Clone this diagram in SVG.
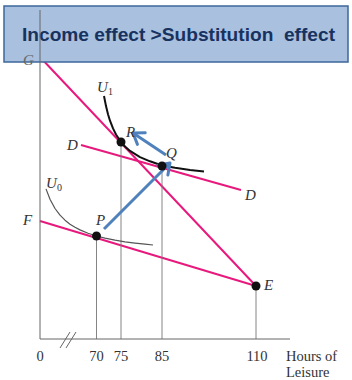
<svg xmlns="http://www.w3.org/2000/svg" width="352" height="380" viewBox="0 0 352 380">
<style>
.pink{stroke:#e8197d;stroke-width:2;fill:none}
.ax{stroke:#666;stroke-width:1;fill:none}
.drop{stroke:#777;stroke-width:0.9;fill:none}
.lbl{font-family:"Liberation Serif",serif;font-style:italic;font-size:15px;fill:#333}
.sub{font-family:"Liberation Serif",serif;font-size:10px;fill:#333}
.tick{font-family:"Liberation Serif",serif;font-size:14.5px;fill:#333}
.arr{stroke:#4f81bd;stroke-width:3;fill:none;marker-end:url(#ah)}
.pt{fill:#111}
</style>
<defs>
<marker id="ah" markerUnits="userSpaceOnUse" viewBox="-14 -9 16 18" refX="0" refY="0" markerWidth="16" markerHeight="18" orient="auto">
<path d="M-10,-7 L0,0 L-10,7" stroke="#4f81bd" stroke-width="3" fill="none" stroke-linecap="round" stroke-linejoin="round"/>
</marker>
</defs>
<rect width="352" height="380" fill="#fff"/>
<g id="connectors">
<line id="GE" class="pink" x1="40" y1="57" x2="256" y2="286"/>
<line id="FE" class="pink" x1="40" y1="221" x2="256" y2="286"/>
<line id="DD" class="pink" x1="81" y1="145" x2="241" y2="190"/>
<line class="drop" x1="96.5" y1="236" x2="96.5" y2="339"/>
<line class="drop" x1="121" y1="142" x2="121" y2="339"/>
<line class="drop" x1="162" y1="166" x2="162" y2="339"/>
<line class="drop" x1="256" y1="286" x2="256" y2="339"/>
<path id="U1" d="M104,96 L106,106.1 L108,114.2 L110,120.7 L113,128.4 L116,134.5 L121,142 L125,146.5 L130,150.9 L140,157.1 L150,161.3 L162,165.5 L175,167.8 L190,169.9 L204,171.5" stroke="#111" stroke-width="2" fill="none" stroke-linejoin="round"/>
<path id="U0" d="M46,188.9 L50,199.3 L55,208.5 L60,215.2 L65,220.2 L70,224.2 L75,227.3 L80,229.9 L88,233.3 L96.5,236 L105,238.1 L115,240.2 L125,241.8 L135,243.1 L145,244.2 L153,245" stroke="#555" stroke-width="1.2" fill="none" stroke-linejoin="round"/>
<line class="arr" x1="104" y1="229" x2="170" y2="163"/>
<line class="arr" x1="166" y1="155" x2="133" y2="133"/>
</g>
<g id="header">
<rect x="4" y="6" width="344" height="56" fill="#a9c0de" stroke="#3d679c" stroke-width="1.5"/>
<text x="22" y="41" font-family="'Liberation Sans',Arial,sans-serif" font-weight="bold" font-size="19" fill="#18325f" textLength="313" lengthAdjust="spacingAndGlyphs" style="white-space:pre">Income effect &gt;Substitution  effect</text>
</g>
<g id="axes">
<line class="ax" x1="40" y1="10" x2="40" y2="339"/>
<line class="ax" x1="40" y1="339" x2="290" y2="339"/>
<line class="ax" x1="60" y1="348" x2="70" y2="332"/>
<line class="ax" x1="66" y1="348" x2="76" y2="332"/>
<text class="tick" x="40" y="361" text-anchor="middle">0</text>
<text class="tick" x="96.5" y="361" text-anchor="middle">70</text>
<text class="tick" x="121" y="361" text-anchor="middle">75</text>
<text class="tick" x="162" y="361" text-anchor="middle">85</text>
<text class="tick" x="257" y="361" text-anchor="middle">110</text>
<text class="tick" x="286" y="361">Hours of</text>
<text class="tick" x="286" y="377">Leisure</text>
</g>
<g id="G"><text class="lbl" x="23" y="65" style="fill:#666">G</text></g>
<g id="F"><text class="lbl" x="23" y="225">F</text></g>
<g id="D1"><text class="lbl" x="67" y="150">D</text></g>
<g id="D2"><text class="lbl" x="245" y="200">D</text></g>
<g id="U1label"><text class="lbl" x="97" y="92">U</text><text class="sub" x="108" y="95">1</text></g>
<g id="U0label"><text class="lbl" x="46" y="188">U</text><text class="sub" x="57" y="191">0</text></g>
<g id="P"><circle class="pt" cx="96.5" cy="236" r="4.5"/><text class="lbl" x="96" y="225">P</text></g>
<g id="R"><circle class="pt" cx="121" cy="142" r="4.5"/><text class="lbl" x="126" y="137">R</text></g>
<g id="Q"><circle class="pt" cx="162" cy="166" r="4.5"/><text class="lbl" x="166" y="158">Q</text></g>
<g id="E"><circle class="pt" cx="256" cy="286" r="4.5"/><text class="lbl" x="264" y="290">E</text></g>
</svg>
